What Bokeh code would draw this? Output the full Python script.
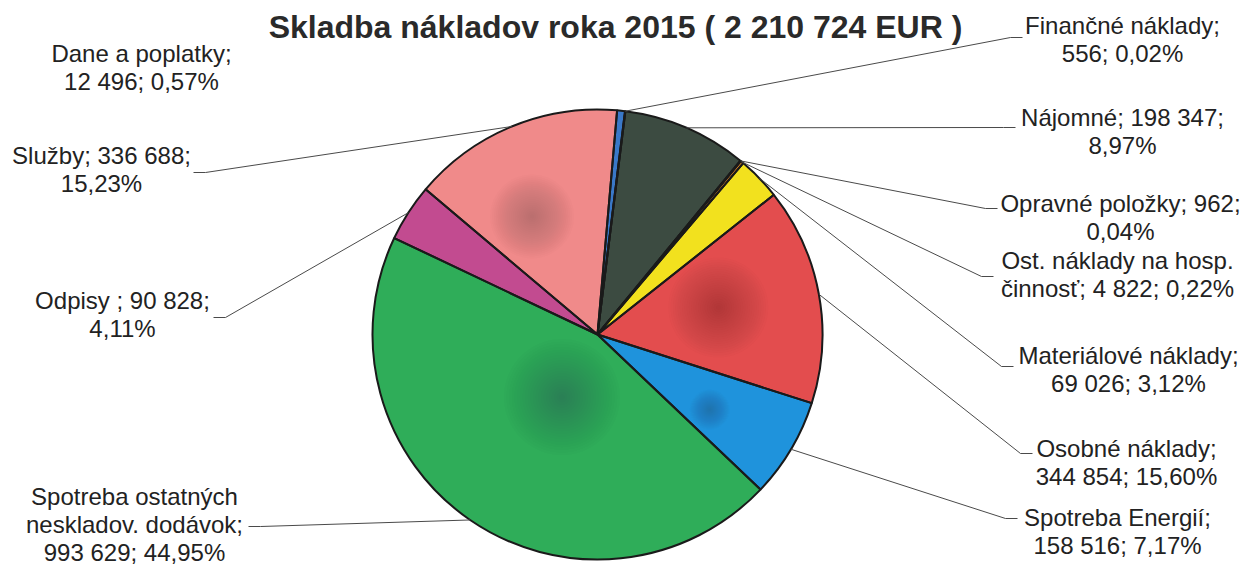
import math
from bokeh.plotting import figure
from bokeh.models import Range1d, ColumnDataSource
from bokeh.core.properties import value
from bokeh.embed import file_html
from bokeh.resources import INLINE

# ---------------- data ----------------
title_text = "Skladba nákladov roka 2015 ( 2 210 724 EUR )"
categories = ["Dane a poplatky", "Finančné náklady", "Nájomné", "Opravné položky",
              "Ost. náklady na hosp. činnosť", "Materiálové náklady", "Osobné náklady",
              "Spotreba Energií", "Spotreba ostatných neskladov. dodávok", "Odpisy ", "Služby"]
values = [12496, 556, 198347, 962, 4822, 69026, 344854, 158516, 993629, 90828, 336688]
percents = ["0,57%", "0,02%", "8,97%", "0,04%", "0,22%", "3,12%", "15,60%",
            "7,17%", "44,95%", "4,11%", "15,23%"]

# ---------------- style / layout ----------------
colors = ["#3a78c8", "#6a4c9c", "#3c4b41", "#8cb04a", "#e0882c", "#f2e11e",
          "#e34d4e", "#1f93dc", "#2fad59", "#c24b90", "#f08a8a"]
wrap = [[3, 3], [2, 2], [3, 1], [3, 1], [4, 4], [2, 3], [2, 3], [2, 3], [2, 2, 3], [4, 1], [3, 1]]
# label centre x, first line centre y (page pixels)
label_pos = [(141, 53), (1122, 25), (1122, 117), (1120, 203), (1117, 260), (1128, 355),
             (1126, 448), (1117, 517), (134, 496), (122, 300), (101, 155)]
# leader-line anchor at the label (None = no leader line)
anchors = [None, (1022, 37), (1015, 127), (997, 208), (993, 276), (1013, 366),
           (1032, 453), (1017, 518), (248, 526), (213, 317), (193, 172)]
LINE_H = 28
FONT = "Liberation Sans"
CX, CY, R = 597, 334, 225
START_DEG = 5.0
# soft darker shading spots inside slices: (slice index, angle fraction, radius fraction, size, colour)
spots = [(10, 0.38, 0.60, 42, "#7a4a4a"), (6, 0.46, 0.55, 50, "#8a3a38"),
         (8, 0.47, 0.32, 58, "#3e6a4a"), (7, 0.62, 0.60, 20, "#1f5a80")]

PW, PH = 1243, 566
def Y(py):
    return PH - py

p = figure(width=PW, height=PH, x_range=Range1d(0, PW), y_range=Range1d(0, PH),
           output_backend="svg", toolbar_location=None, min_border=0)
p.xaxis.visible = False
p.yaxis.visible = False
p.xgrid.visible = False
p.ygrid.visible = False
p.outline_line_color = None
p.background_fill_color = "white"
p.border_fill_color = "white"

total = sum(values)
th_start, th_end, th_mid = [], [], []
acc = START_DEG
for v in values:
    span = v / total * 360.0
    th_start.append(acc)
    th_end.append(acc + span)
    th_mid.append(acc + span / 2)
    acc += span

src = ColumnDataSource(dict(
    x=[CX] * len(values), y=[Y(CY)] * len(values),
    start=[math.radians(90 - e) for e in th_end],
    end=[math.radians(90 - s) for s in th_start],
    color=colors))
p.wedge(x="x", y="y", radius=R, start_angle="start", end_angle="end",
        fill_color="color", line_color=None, source=src)

# soft shading
for idx, af, rf, size, col in spots:
    th = th_start[idx] + af * (th_end[idx] - th_start[idx])
    sx = CX + rf * R * math.sin(math.radians(th))
    sy = CY - rf * R * math.cos(math.radians(th))
    n = 22
    p.circle(x=[sx] * n, y=[Y(sy)] * n, radius=[size * (k + 1) / n for k in range(n)],
             fill_color=col, fill_alpha=0.022, line_color=None)

# outlines on top
p.wedge(x="x", y="y", radius=R, start_angle="start", end_angle="end",
        fill_color=None, line_color="#1a1a1a", line_width=2, source=src)

# leader lines
xs, ys = [], []
for i, a in enumerate(anchors):
    if a is None:
        continue
    ax, ay = a
    ex = CX + R * math.sin(math.radians(th_mid[i]))
    ey = CY - R * math.cos(math.radians(th_mid[i]))
    stub = -12 if ax > CX else 12
    xs.append([ax, ax + stub, ex])
    ys.append([Y(ay), Y(ay), Y(ey)])
p.multi_line(xs=xs, ys=ys, line_color="#4a4a4a", line_width=1)

# labels
def fmt(v):
    return f"{v:,}".replace(",", " ")

tx, ty, tt = [], [], []
for i, name in enumerate(categories):
    words = f"{name}; {fmt(values[i])}; {percents[i]}".split()
    k = 0
    cx, cy = label_pos[i]
    for j, n in enumerate(wrap[i]):
        tt.append(" ".join(words[k:k + n]))
        k += n
        tx.append(cx)
        ty.append(Y(cy + j * LINE_H))
p.text(x=tx, y=ty, text=tt, text_align="center", text_baseline="middle",
       text_font=value(FONT), text_font_size="24px", text_color="#222222")

p.text(x=[615], y=[Y(26)], text=[title_text], text_align="center", text_baseline="alphabetic",
       text_font=value(FONT), text_font_size="32px", text_font_style="bold", text_color="#2a2a2a")

open("out.html", "w").write(file_html(p, INLINE))
